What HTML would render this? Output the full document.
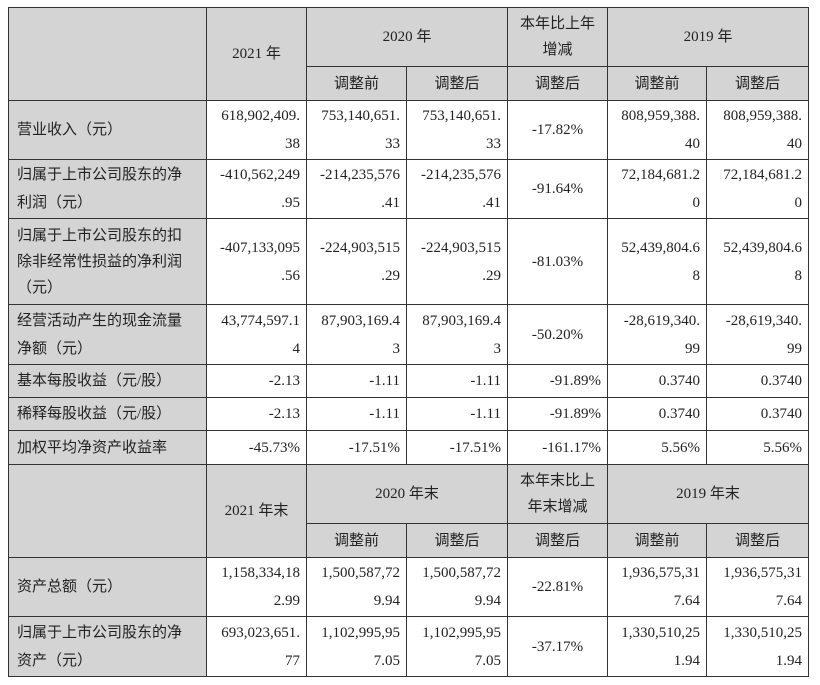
<!DOCTYPE html>
<html><head><meta charset="utf-8"><style>
html,body{margin:0;padding:0;background:#fff;width:820px;height:685px;overflow:hidden}
table{position:absolute;left:8px;top:7px;border-collapse:collapse;table-layout:fixed;width:800px;font-family:"Liberation Serif","Noto Sans CJK SC",serif;font-size:15px;color:#222}
td{border:1px solid #333;padding:0 6px;line-height:28px;vertical-align:middle;overflow:hidden;white-space:nowrap}
.g{background:#d4d4d4}
.c{text-align:center}
.r{text-align:right}
.l{text-align:left;padding-left:8px}
.t{line-height:26px}
</style></head><body>
<table>
<colgroup><col style="width:198px"><col style="width:100px"><col style="width:100px"><col style="width:101px"><col style="width:100px"><col style="width:99px"><col style="width:102px"></colgroup>
<tr style="height:59px"><td class="g" rowspan="2"></td><td class="g c" rowspan="2">2021 年</td><td class="g c" colspan="2">2020 年</td><td class="g c t">本年比上年<br>增减</td><td class="g c" colspan="2">2019 年</td></tr>
<tr style="height:34px"><td class="g c">调整前</td><td class="g c">调整后</td><td class="g c">调整后</td><td class="g c">调整前</td><td class="g c">调整后</td></tr>
<tr style="height:59px"><td class="g l">营业收入（元）</td><td class="r">618,902,409.<br>38</td><td class="r">753,140,651.<br>33</td><td class="r">753,140,651.<br>33</td><td class="c">-17.82%</td><td class="r">808,959,388.<br>40</td><td class="r">808,959,388.<br>40</td></tr>
<tr style="height:59px"><td class="g l">归属于上市公司股东的净<br>利润（元）</td><td class="r">-410,562,249<br>.95</td><td class="r">-214,235,576<br>.41</td><td class="r">-214,235,576<br>.41</td><td class="c">-91.64%</td><td class="r">72,184,681.2<br>0</td><td class="r">72,184,681.2<br>0</td></tr>
<tr style="height:86px"><td class="g l t">归属于上市公司股东的扣<br>除非经常性损益的净利润<br>（元）</td><td class="r">-407,133,095<br>.56</td><td class="r">-224,903,515<br>.29</td><td class="r">-224,903,515<br>.29</td><td class="c">-81.03%</td><td class="r">52,439,804.6<br>8</td><td class="r">52,439,804.6<br>8</td></tr>
<tr style="height:60px"><td class="g l">经营活动产生的现金流量<br>净额（元）</td><td class="r">43,774,597.1<br>4</td><td class="r">87,903,169.4<br>3</td><td class="r">87,903,169.4<br>3</td><td class="c">-50.20%</td><td class="r">-28,619,340.<br>99</td><td class="r">-28,619,340.<br>99</td></tr>
<tr style="height:33px"><td class="g l">基本每股收益（元/股）</td><td class="r">-2.13</td><td class="r">-1.11</td><td class="r">-1.11</td><td class="r">-91.89%</td><td class="r">0.3740</td><td class="r">0.3740</td></tr>
<tr style="height:33px"><td class="g l">稀释每股收益（元/股）</td><td class="r">-2.13</td><td class="r">-1.11</td><td class="r">-1.11</td><td class="r">-91.89%</td><td class="r">0.3740</td><td class="r">0.3740</td></tr>
<tr style="height:34px"><td class="g l">加权平均净资产收益率</td><td class="r">-45.73%</td><td class="r">-17.51%</td><td class="r">-17.51%</td><td class="r">-161.17%</td><td class="r">5.56%</td><td class="r">5.56%</td></tr>
<tr style="height:59px"><td class="g" rowspan="2"></td><td class="g c" rowspan="2">2021 年末</td><td class="g c" colspan="2">2020 年末</td><td class="g c t">本年末比上<br>年末增减</td><td class="g c" colspan="2">2019 年末</td></tr>
<tr style="height:34px"><td class="g c">调整前</td><td class="g c">调整后</td><td class="g c">调整后</td><td class="g c">调整前</td><td class="g c">调整后</td></tr>
<tr style="height:59px"><td class="g l">资产总额（元）</td><td class="r">1,158,334,18<br>2.99</td><td class="r">1,500,587,72<br>9.94</td><td class="r">1,500,587,72<br>9.94</td><td class="c">-22.81%</td><td class="r">1,936,575,31<br>7.64</td><td class="r">1,936,575,31<br>7.64</td></tr>
<tr style="height:60px"><td class="g l">归属于上市公司股东的净<br>资产（元）</td><td class="r">693,023,651.<br>77</td><td class="r">1,102,995,95<br>7.05</td><td class="r">1,102,995,95<br>7.05</td><td class="c">-37.17%</td><td class="r">1,330,510,25<br>1.94</td><td class="r">1,330,510,25<br>1.94</td></tr>
</table>
</body></html>
